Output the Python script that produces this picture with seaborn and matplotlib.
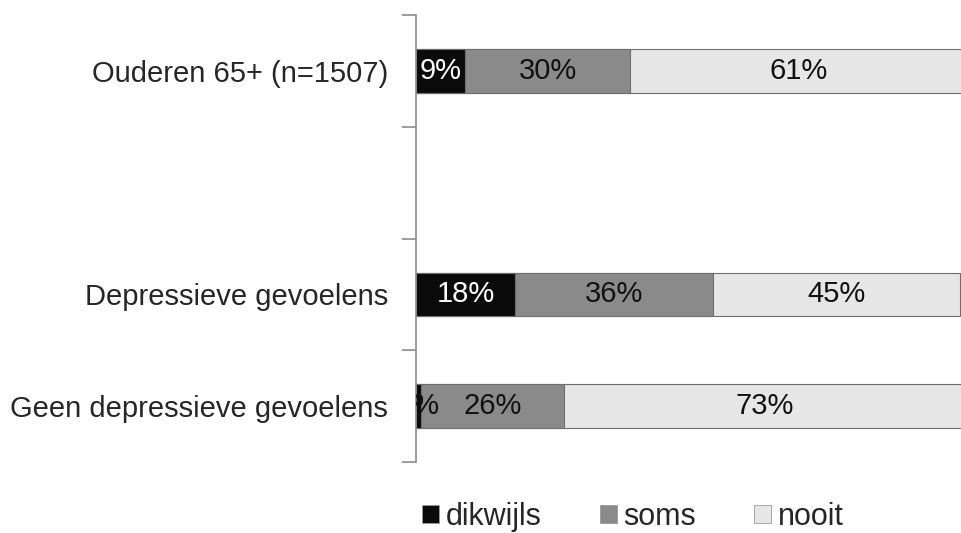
import numpy as np
import pandas as pd
import seaborn as sns
import matplotlib.pyplot as plt
from matplotlib.patches import Patch

# ---- data ----
groups = ["Ouderen 65+ (n=1507)", "Depressieve gevoelens", "Geen depressieve gevoelens"]
order = ["Ouderen 65+ (n=1507)", " ", "Depressieve gevoelens", "Geen depressieve gevoelens"]
series = ["dikwijls", "soms", "nooit"]
dikwijls = [9, 18, 1]
soms = [30, 36, 26]
nooit = [61, 45, 73]
colors = ["#0b0b0b", "#8a8a8a", "#e6e6e6"]
text_colors = ["white", "#111111", "#111111"]

sns.set_style("white")
plt.rcParams["font.family"] = ["Liberation Sans", "DejaVu Sans"]

df = pd.DataFrame({"group": groups, "dikwijls": dikwijls, "soms": soms, "nooit": nooit})
df["c1"] = df["dikwijls"]
df["c2"] = df["dikwijls"] + df["soms"]
df["c3"] = df["c2"] + df["nooit"]

fig = plt.figure(figsize=(9.62, 5.33), dpi=100)
ax = fig.add_axes([416 / 962, 1 - 462 / 533, (962 - 416) / 962, (462 - 15) / 533])

for col, colr in zip(["c3", "c2", "c1"], colors[::-1]):
    sns.barplot(data=df, x=col, y="group", order=order, orient="h", color=colr,
                width=0.39, edgecolor="#6e6e6e", linewidth=0.8, saturation=1, ax=ax)

ax.set_xlim(0, 99.3)
ax.set_ylim(3.5, -0.5)

# segment labels
pos = {g: order.index(g) for g in groups}
for _, r in df.iterrows():
    y = pos[r["group"]]
    starts = [0, r["c1"], r["c2"]]
    vals = [r["dikwijls"], r["soms"], r["nooit"]]
    for s, v, tc in zip(starts, vals, text_colors):
        ax.text(s + v / 2, y, f"{v}%", ha="center", va="center", fontsize=21,
                color=tc if v > 3 else "#111111", clip_on=True)

ax.set_xlabel("")
ax.set_ylabel("")
ax.xaxis.set_visible(False)
for s in ["top", "right", "bottom"]:
    ax.spines[s].set_visible(False)
ax.spines["left"].set_color("#8c8c8c")
ax.spines["left"].set_linewidth(1.2)

ax.set_yticks(range(4))
ax.set_yticklabels(["Ouderen 65+ (n=1507)", "", "Depressieve gevoelens", "Geen depressieve gevoelens"],
                   fontsize=21)
ax.tick_params(axis="y", which="major", left=False, length=0, pad=20)
ax.set_yticks(np.arange(-0.5, 4.0, 1.0), minor=True)
ax.tick_params(axis="y", which="minor", left=True, length=10, width=1.2, color="#8c8c8c",
               direction="out")

handles = [Patch(facecolor=c, edgecolor="#9a9a9a", linewidth=0.6) for c in colors]
fig.legend(handles, series, loc="center", bbox_to_anchor=(0.658, 0.03), ncol=3, frameon=False,
           fontsize=22, handlelength=0.55, handleheight=0.55, handletextpad=0.22,
           columnspacing=1.9, borderpad=0.2)

fig.savefig("out.png", dpi=100)
